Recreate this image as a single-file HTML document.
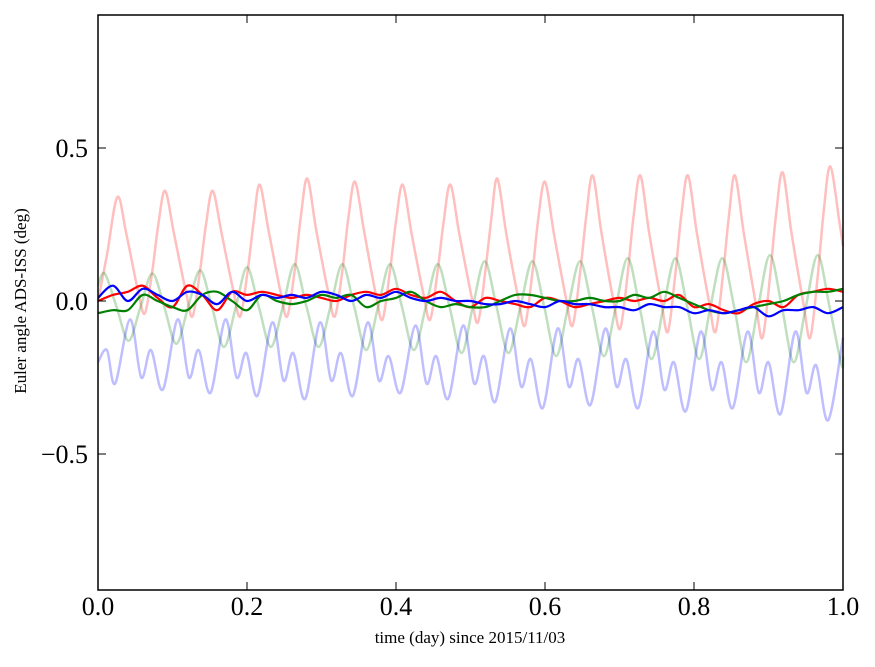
<!DOCTYPE html>
<html><head><meta charset="utf-8"><style>
body{margin:0;background:#fff}
svg text{font-family:"Liberation Serif",serif}
</style></head><body>
<svg id="chart" width="875" height="662" viewBox="0 0 875 662" xmlns="http://www.w3.org/2000/svg">
<rect x="0" y="0" width="875" height="662" fill="#fff"/>
<g id="series"></g>
<rect x="98" y="15" width="745" height="575" fill="none" stroke="#000" stroke-width="1.5"/>
<g id="axes"></g>
<text x="470" y="643" font-size="17" text-anchor="middle">time (day) since 2015/11/03</text>
<text transform="translate(26,301) rotate(-90)" font-size="17" text-anchor="middle">Euler angle ADS-ISS (deg)</text>
</svg>
<script>
const xTicks=[0,0.2,0.4,0.6,0.8,1.0];
const xTickLabels=["0.0","0.2","0.4","0.6","0.8","1.0"];
const yTicks=[0.5,0,-0.5];
const yTickLabels=["0.5","0.0","\u22120.5"];

const pinkT=[0,0.012,
0.026,0.038,0.054,0.063,0.073,0.081,
0.090,0.102,0.118,0.127,0.137,0.145,
0.154,0.166,0.182,0.191,0.201,0.209,
0.217,0.229,0.245,0.254,0.264,0.272,
0.281,0.293,0.309,0.318,0.328,0.336,
0.345,0.357,0.373,0.382,0.392,0.400,
0.409,0.421,0.437,0.446,0.456,0.464,
0.473,0.485,0.501,0.510,0.520,0.528,
0.536,0.548,0.564,0.573,0.583,0.591,
0.600,0.612,0.628,0.637,0.647,0.655,
0.664,0.676,0.692,0.701,0.711,0.719,
0.728,0.740,0.756,0.765,0.775,0.783,
0.792,0.804,0.820,0.829,0.839,0.847,
0.855,0.867,0.883,0.892,0.902,0.910,
0.919,0.931,0.947,0.956,0.966,0.974,
0.983,0.995,1.0];
const pinkV=[0.0,0.15,
0.34,0.22,0.03,-0.04,0.10,0.25,
0.36,0.22,0.03,-0.05,0.10,0.25,
0.36,0.22,0.03,-0.05,0.10,0.26,
0.38,0.23,0.03,-0.05,0.10,0.27,
0.40,0.23,0.03,-0.05,0.10,0.27,
0.39,0.23,0.02,-0.06,0.10,0.26,
0.38,0.22,0.02,-0.06,0.10,0.26,
0.38,0.22,0.02,-0.07,0.10,0.27,
0.40,0.22,0.01,-0.08,0.09,0.27,
0.39,0.22,0.01,-0.08,0.09,0.27,
0.41,0.22,0.00,-0.09,0.09,0.28,
0.41,0.22,0.00,-0.10,0.09,0.28,
0.41,0.22,0.00,-0.10,0.09,0.28,
0.41,0.22,-0.01,-0.12,0.08,0.28,
0.42,0.22,-0.01,-0.12,0.08,0.29,
0.44,0.26,0.18];

const lgreenT=[0,0.009,0.025,0.041,0.057,0.073,0.089,0.105,0.121,0.137,0.153,0.169,0.185,0.200,0.216,0.232,0.248,0.264,0.280,0.296,0.312,0.328,0.344,0.360,0.376,0.392,0.408,0.424,0.440,0.456,0.472,0.488,0.503,0.519,0.535,0.551,0.567,0.583,0.599,0.615,0.631,0.647,0.663,0.679,0.695,0.711,0.727,0.743,0.759,0.775,0.791,0.807,0.822,0.838,0.854,0.870,0.886,0.902,0.918,0.934,0.950,0.966,0.982,0.998,1.0];
const lgreenV=[0.05,0.09,-0.02,-0.13,-0.02,0.09,-0.02,-0.14,-0.02,0.10,-0.02,-0.15,-0.02,0.11,-0.02,-0.15,-0.02,0.12,-0.02,-0.15,-0.02,0.12,-0.02,-0.16,-0.02,0.12,-0.02,-0.16,-0.02,0.12,-0.02,-0.17,-0.02,0.13,-0.02,-0.17,-0.02,0.13,-0.02,-0.18,-0.02,0.13,-0.02,-0.18,-0.02,0.14,-0.02,-0.19,-0.02,0.14,-0.02,-0.19,-0.02,0.14,-0.02,-0.20,-0.02,0.15,-0.02,-0.20,-0.02,0.15,-0.02,-0.21,-0.18];

const lblueT=[0,0.012,0.023,0.043,0.058,0.071,0.087,0.107,0.122,0.135,0.151,0.171,0.186,0.199,0.214,0.234,0.249,0.262,0.278,0.298,0.313,0.326,0.342,0.362,0.377,0.390,0.406,0.426,0.441,0.454,0.470,0.490,0.505,0.518,0.533,0.553,0.568,0.581,0.597,0.617,0.632,0.645,0.661,0.681,0.696,0.709,0.725,0.745,0.760,0.773,0.789,0.809,0.824,0.837,0.852,0.872,0.887,0.900,0.916,0.936,0.951,0.964,0.980,1.0];
const lblueV=[-0.20,-0.16,-0.27,-0.06,-0.25,-0.16,-0.29,-0.06,-0.25,-0.16,-0.30,-0.06,-0.25,-0.17,-0.31,-0.07,-0.26,-0.17,-0.32,-0.07,-0.26,-0.17,-0.31,-0.07,-0.26,-0.18,-0.30,-0.08,-0.27,-0.18,-0.32,-0.08,-0.27,-0.18,-0.33,-0.09,-0.28,-0.19,-0.35,-0.09,-0.28,-0.19,-0.34,-0.09,-0.28,-0.19,-0.35,-0.10,-0.29,-0.20,-0.36,-0.10,-0.29,-0.20,-0.35,-0.10,-0.30,-0.20,-0.37,-0.10,-0.30,-0.21,-0.39,-0.12];

const darkT=[];for(let i=0;i<=50;i++)darkT.push(i*0.02);
const redV=[0.00,0.02,0.03,0.05,0.01,-0.02,0.05,0.02,-0.03,0.03,0.02,0.03,0.02,0.01,0.02,0.01,0.00,0.02,0.03,0.02,0.04,0.02,0.01,0.03,0.00,-0.02,0.01,0.00,-0.01,-0.02,0.01,0.00,-0.02,-0.01,0.00,0.01,0.00,0.01,0.00,0.02,-0.02,-0.01,-0.03,-0.04,-0.01,0.00,-0.02,0.02,0.03,0.04,0.03];
const greenV=[-0.04,-0.03,-0.03,0.02,0.00,-0.02,-0.03,0.02,0.03,0.00,-0.03,0.02,0.00,-0.01,0.00,0.02,0.01,0.02,-0.02,0.00,0.01,0.03,0.00,-0.02,-0.01,-0.02,-0.02,0.00,0.02,0.02,0.01,0.00,0.00,0.01,0.00,0.00,0.02,0.01,0.03,0.01,-0.01,-0.03,-0.04,-0.03,-0.02,-0.01,0.00,0.02,0.03,0.03,0.04];
const blueV=[0.01,0.05,0.00,0.04,0.02,0.00,0.03,0.02,-0.01,0.03,0.00,0.02,0.01,0.02,0.01,0.03,0.02,0.00,0.02,0.01,0.03,0.01,0.00,0.01,0.00,0.00,-0.01,-0.01,0.00,-0.01,-0.02,0.00,-0.01,-0.01,-0.02,-0.02,-0.03,-0.01,-0.02,-0.02,-0.04,-0.03,-0.04,-0.03,-0.02,-0.05,-0.03,-0.03,-0.02,-0.04,-0.02];

const X0=98,X1=843,Y0=590,Y1=15;
function sx(t){return X0+t*(X1-X0);}
function sy(v){return 301-v*306;}
const NS="http://www.w3.org/2000/svg";
function smoothPath(T,V){
  const p=T.map((t,i)=>[sx(t),sy(V[i])]);
  let d="M"+p[0][0].toFixed(1)+","+p[0][1].toFixed(1);
  for(let i=0;i<p.length-1;i++){
    const a=p[i-1]||p[i],b=p[i],c=p[i+1],e=p[i+2]||c;
    const c1=[b[0]+(c[0]-a[0])/6,b[1]+(c[1]-a[1])/6],c2=[c[0]-(e[0]-b[0])/6,c[1]-(e[1]-b[1])/6];
    d+="C"+c1[0].toFixed(1)+","+c1[1].toFixed(1)+" "+c2[0].toFixed(1)+","+c2[1].toFixed(1)+" "+c[0].toFixed(1)+","+c[1].toFixed(1);
  }
  return d;
}
const g=document.getElementById("series");
function addSeries(name,T,V,color,op,w){
  const el=document.createElementNS(NS,"path");
  el.setAttribute("d",smoothPath(T,V));
  el.setAttribute("fill","none");el.setAttribute("stroke",color);
  el.setAttribute("stroke-opacity",op);el.setAttribute("stroke-width",w);
  
  
  g.appendChild(el);
}
addSeries("series-roll-raw",pinkT,pinkV,"#ff0000",0.25,2.5);
addSeries("series-pitch-raw",lgreenT,lgreenV,"#008000",0.25,2.5);
addSeries("series-yaw-raw",lblueT,lblueV,"#0000ff",0.25,2.5);
addSeries("series-roll",darkT,redV,"#ff0000",1,2.2);
addSeries("series-pitch",darkT,greenV,"#008000",1,2.2);
addSeries("series-yaw",darkT,blueV,"#0000ff",1,2.2);

const ax=document.getElementById("axes");
xTicks.forEach((t,i)=>{
  const x=sx(t);
  [[Y0,Y0-8],[Y1,Y1+8]].forEach(([a,b])=>{
    const l=document.createElementNS(NS,"line");
    l.setAttribute("x1",x);l.setAttribute("x2",x);l.setAttribute("y1",a);l.setAttribute("y2",b);
    l.setAttribute("stroke","#000");
    
    
    ax.appendChild(l);
  });
  const tx=document.createElementNS(NS,"text");
  tx.setAttribute("x",x);tx.setAttribute("y",615);tx.setAttribute("font-size","26");tx.setAttribute("text-anchor","middle");
  tx.textContent=xTickLabels[i];
  
  
  ax.appendChild(tx);
});
yTicks.forEach((v,i)=>{
  const y=sy(v);
  [[X0,X0+8],[X1,X1-8]].forEach(([a,b])=>{
    const l=document.createElementNS(NS,"line");
    l.setAttribute("x1",a);l.setAttribute("x2",b);l.setAttribute("y1",y);l.setAttribute("y2",y);
    l.setAttribute("stroke","#000");
    
    
    ax.appendChild(l);
  });
  const tx=document.createElementNS(NS,"text");
  tx.setAttribute("x",88);tx.setAttribute("y",y+9);tx.setAttribute("font-size","26");tx.setAttribute("text-anchor","end");
  tx.textContent=yTickLabels[i];
  
  
  ax.appendChild(tx);
});
</script>
</body></html>
